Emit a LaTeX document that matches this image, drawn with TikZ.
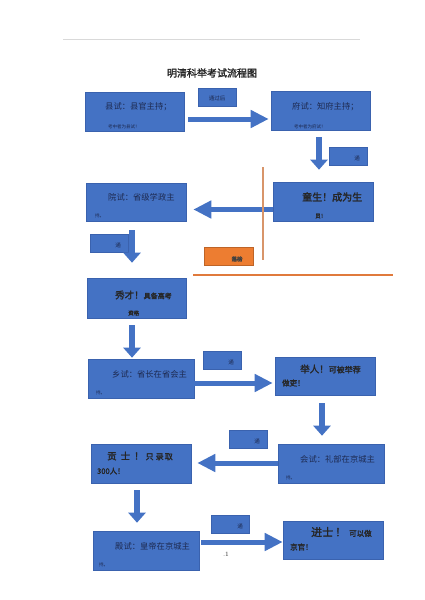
\documentclass[tikz,border=0pt]{standalone}
\usepackage{fontspec}
\usetikzlibrary{arrows.meta,calc}
\newfontfamily\cjk{Noto Sans CJK SC}
\newfontfamily\cjkb{Noto Sans CJK SC}[FakeBold=2]
\definecolor{boxblue}{HTML}{4472C4}
\definecolor{boxline}{HTML}{3A62AE}
\definecolor{txtcol}{HTML}{1E2B52}
\definecolor{orng}{HTML}{ED7D31}
\definecolor{orngv}{HTML}{D8956A}
\definecolor{orngh}{HTML}{E07A3C}
\begin{document}
\begin{tikzpicture}[x=1pt,y=-1pt,
  box/.style={draw=boxline,fill=boxblue,line width=0.6pt,inner sep=0pt},
  lbl/.style={draw=boxline,fill=boxblue,line width=0.5pt,inner sep=0pt,minimum width=38pt,minimum height=18pt},
  txt/.style={font=\cjk\fontsize{8.3}{9}\selectfont,text=txtcol,inner sep=0pt,anchor=west},
  btxt/.style={font=\cjkb\fontsize{9.5}{10}\selectfont,text=black!85,inner sep=0pt,anchor=west},
  sbtxt/.style={font=\cjkb\fontsize{7}{8}\selectfont,text=black!85,inner sep=0pt,anchor=west},
  tinytxt/.style={font=\cjk\fontsize{4.5}{5}\selectfont,text=txtcol,inner sep=0pt,anchor=west},
  ltxt/.style={font=\cjk\fontsize{5.5}{6}\selectfont,text=txtcol,inner sep=0pt},
  harrow/.style={boxblue,line width=5pt,-{Triangle[length=18pt,width=17pt]}},
  varrow/.style={boxblue,line width=6pt,-{Triangle[length=10pt,width=17pt]}}
]
\useasboundingbox (0,0) rectangle (424,600);
\fill[white] (0,0) rectangle (424,600);
% header rule
\draw[black!15,line width=0.6pt] (63,39) -- (360,39);
% title
\node[font=\cjkb\fontsize{10}{11}\selectfont,text=black!85,inner sep=0pt] (title) at (212,73) {明清科举考试流程图};

% main boxes
\node[box,minimum width=99pt,minimum height=39pt] (b1) at (134.5,111.5) {};
\node[box,minimum width=99pt,minimum height=39pt] (b2) at (320.5,110.5) {};
\node[box,minimum width=100pt,minimum height=39pt] (b3) at (323,201.5) {};
\node[box,minimum width=100pt,minimum height=38pt] (b4) at (136,202) {};
\node[box,minimum width=99pt,minimum height=40pt] (b5) at (136.5,298) {};
\node[box,minimum width=106pt,minimum height=39pt] (b6) at (141,378.5) {};
\node[box,minimum width=100pt,minimum height=38pt] (b7) at (325,376) {};
\node[box,minimum width=106pt,minimum height=39pt] (b8) at (331,463.5) {};
\node[box,minimum width=100pt,minimum height=39pt] (b9) at (141,463.5) {};
\node[box,minimum width=106pt,minimum height=39pt] (b10) at (146,550.5) {};
\node[box,minimum width=100pt,minimum height=38pt] (b11) at (333,540) {};

% texts in boxes
\node[txt] (t1) at (105,107) {县试：县官主持；};
\node[tinytxt] (t1b) at (108,126.5) {考中者为县试！};
\node[txt] (t2) at (292,107) {府试：知府主持；};
\node[tinytxt] (t2b) at (294,126.5) {考中者为府试！};
\node[btxt,font=\cjkb\fontsize{10}{11}\selectfont] (t3) at (302,197) {童生！成为生};
\node[sbtxt,font=\cjkb\fontsize{5.5}{6}\selectfont] (t3b) at (315,216) {员！};
\node[txt] (t4) at (108,197) {院试：省级学政主};
\node[tinytxt] (t4b) at (95,216) {持。};
\node[btxt] (t5) at (115,295) {秀才！\fontsize{7}{8}\selectfont 具备高考};
\node[sbtxt,font=\cjkb\fontsize{5.5}{6}\selectfont] (t5b) at (128,313) {资格};
\node[txt] (t6) at (112,374) {乡试：省长在省会主};
\node[tinytxt] (t6b) at (96,393) {持。};
\node[btxt] (t7) at (300,369) {举人！\fontsize{8}{9}\selectfont 可被举荐};
\node[sbtxt,font=\cjkb\fontsize{7.5}{8}\selectfont] (t7b) at (282,383) {做吏！};
\node[txt] (t8) at (300,459) {会试：礼部在京城主};
\node[tinytxt] (t8b) at (286,478) {持。};
\node[btxt] (t9) at (107,456) {贡\hspace{4pt}士\hspace{4pt}！\hspace{2pt}\fontsize{8}{9}\selectfont 只\hspace{2pt}录\hspace{1pt}取};
\node[sbtxt,font=\cjkb\fontsize{7.5}{8}\selectfont] (t9b) at (97,471) {300人！};
\node[txt] (t10) at (115,546) {殿试：皇帝在京城主};
\node[tinytxt] (t10b) at (99,565) {持。};
\node[btxt,font=\cjkb\fontsize{11}{12}\selectfont] (t11) at (311,532) {进士\hspace{2pt}！\hspace{3pt}\fontsize{7.5}{8}\selectfont 可以做};
\node[sbtxt,font=\cjkb\fontsize{7.5}{8}\selectfont] (t11b) at (290,547) {京官！};

% small label boxes
\node[lbl] (l1) at (217,97) {};
\node[ltxt] (lt1) at (217,98) {通过后};
\node[lbl] (l2) at (348,156) {};
\node[ltxt] (lt2) at (357,158) {通};
\node[lbl] (l3) at (109.5,243) {};
\node[ltxt] (lt3) at (118,245) {通};
\node[lbl] (l4) at (222,360.5) {};
\node[ltxt] (lt4) at (231,362.5) {通};
\node[lbl] (l5) at (248,439.5) {};
\node[ltxt] (lt5) at (257,441.5) {通};
\node[lbl] (l6) at (230.5,524.5) {};
\node[ltxt] (lt6) at (240,526.5) {通};

% orange box
\node[fill=orng,draw=orng!80!black,line width=0.4pt,minimum width=49pt,minimum height=18pt,inner sep=0pt] (fail) at (228.5,256) {};
\node[font=\cjkb\fontsize{5.5}{6}\selectfont,text=black!75,inner sep=0pt] (failt) at (237,259) {落榜};

% arrows
\draw[harrow] ([shift={(4,7.5)}]b1.east) -- ([shift={(-2,8.5)}]b2.west);
\draw[varrow] ([shift={(-1.5,7)}]b2.south) -- ([shift={(-4,-12)}]b3.north);
\draw[harrow] ([shift={(0,8)}]b3.west) -- ([shift={(7,7.5)}]b4.east);
\draw[varrow] ([shift={(-4,9)}]b4.south) -- ([shift={(-4.5,-15)}]b5.north);
\draw[varrow] ([shift={(-4.5,7)}]b5.south) -- ([shift={(-9,-1)}]b6.north);
\draw[harrow] ([shift={(0,4.5)}]b6.east) -- ([shift={(-2,7)}]b7.west);
\draw[varrow] ([shift={(-3,8)}]b7.south) -- ([shift={(-9,-8)}]b8.north);
\draw[harrow] ([shift={(0,-0.5)}]b8.west) -- ([shift={(6,-0.5)}]b9.east);
\draw[varrow] ([shift={(-4,7)}]b9.south) -- ([shift={(-9,-8)}]b10.north);
\draw[harrow] ([shift={(2,-8.5)}]b10.east) -- ([shift={(0,2)}]b11.west);

% orange lines
\draw[orngv,line width=1.6pt] (263,167) -- (263,260);
\draw[orngh,line width=2.6pt] (193,275) -- (393,275);

% stray mark
\node[font=\fontsize{6.5}{7}\selectfont,text=black!85,inner sep=0pt] (dot1) at (226,554) {.1};
\end{tikzpicture}
\end{document}
